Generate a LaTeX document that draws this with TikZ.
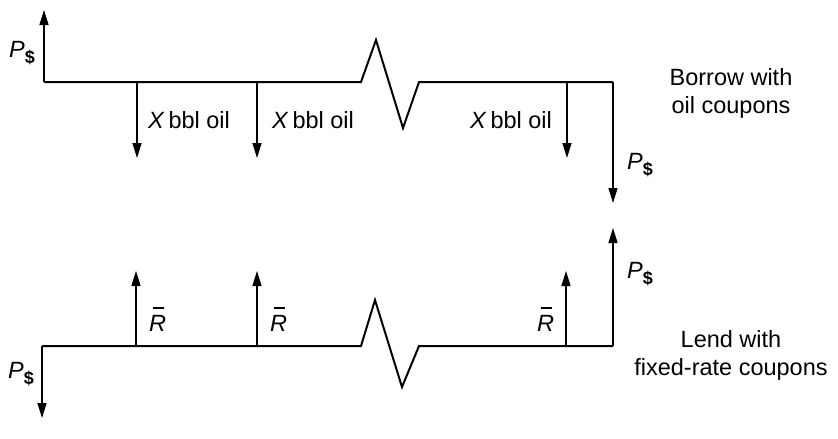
\documentclass[tikz,border=0pt]{standalone}
\usepackage{fontspec}
\setmainfont{Liberation Sans}
\usetikzlibrary{arrows.meta}
\begin{document}
\begin{tikzpicture}[x=1pt,y=-1pt,
  timeline/.style={line width=2pt, line join=miter},
  flow/.style={line width=1.4pt,-{Triangle[length=15pt,width=9pt]}},
  lbl/.style={inner sep=0pt,font=\fontsize{23.5}{28}\selectfont},
  note/.style={lbl,align=center},
]
\newcommand{\Pd}{\textit{P}\raisebox{-6pt}{\fontsize{18}{18}\selectfont\bfseries\$}}
\newcommand{\Rb}{\rlap{\hspace{3.5pt}\raisebox{22pt}{\rule{11pt}{1.6pt}}}\textit{R}}
\useasboundingbox (0,0) rectangle (838,439);
% ---------- top: borrow with oil coupons ----------
\coordinate (tA) at (44,82);
\coordinate (tZ1) at (361,82);
\coordinate (tZ2) at (376,40);
\coordinate (tZ3) at (403,128);
\coordinate (tZ4) at (419,82);
\coordinate (tB) at (613,82);
\coordinate (tc1) at (137,82);
\coordinate (tc2) at (257,82);
\coordinate (tc3) at (567,82);
\coordinate (tAe) at (44,10);
\coordinate (tc1e) at (137,158);
\coordinate (tc2e) at (257,158);
\coordinate (tc3e) at (567,158);
\coordinate (tBe) at (613,203);
\draw[timeline] (tA) -- (tZ1) -- (tZ2) -- (tZ3) -- (tZ4) -- (tB);
\draw[flow] (tA) -- (tAe);
\draw[flow] (tc1) -- (tc1e);
\draw[flow] (tc2) -- (tc2e);
\draw[flow] (tc3) -- (tc3e);
\draw[flow] (tB) -- (tBe);
\node[lbl,anchor=base west] (tP1) at (9,57) {\Pd};
\node[lbl,anchor=base west] (tX1) at (148,128) {\textit{X}\,bbl oil};
\node[lbl,anchor=base west] (tX2) at (272,128) {\textit{X}\,bbl oil};
\node[lbl,anchor=base west] (tX3) at (470,128) {\textit{X}\,bbl oil};
\node[lbl,anchor=base west] (tP2) at (627,169) {\Pd};
\node[note] (tN) at (731,93) {Borrow with\\oil coupons};
% ---------- bottom: lend with fixed-rate coupons ----------
\coordinate (bA) at (42,346);
\coordinate (bZ1) at (361,346);
\coordinate (bZ2) at (375,300);
\coordinate (bZ3) at (402,387);
\coordinate (bZ4) at (419,346);
\coordinate (bB) at (613,346);
\coordinate (bc1) at (136,346);
\coordinate (bc2) at (257,346);
\coordinate (bc3) at (566,346);
\coordinate (bAe) at (42,418);
\coordinate (bc1e) at (136,271);
\coordinate (bc2e) at (257,271);
\coordinate (bc3e) at (566,271);
\coordinate (bBe) at (613,228);
\draw[timeline] (bA) -- (bZ1) -- (bZ2) -- (bZ3) -- (bZ4) -- (bB);
\draw[flow] (bA) -- (bAe);
\draw[flow] (bc1) -- (bc1e);
\draw[flow] (bc2) -- (bc2e);
\draw[flow] (bc3) -- (bc3e);
\draw[flow] (bB) -- (bBe);
\node[lbl,anchor=base west] (bR1) at (149,331) {\Rb};
\node[lbl,anchor=base west] (bR2) at (270,331) {\Rb};
\node[lbl,anchor=base west] (bR3) at (537,331) {\Rb};
\node[lbl,anchor=base west] (bP1) at (627,278) {\Pd};
\node[lbl,anchor=base west] (bP2) at (8,378) {\Pd};
\node[note] (bN) at (731,355) {Lend with\\fixed-rate coupons};
\end{tikzpicture}
\end{document}
